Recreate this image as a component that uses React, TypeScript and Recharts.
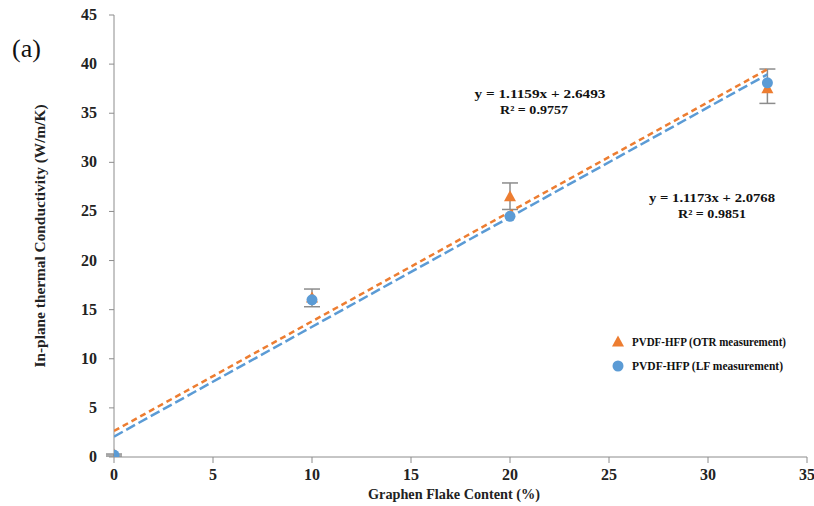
import { ComposedChart, Scatter, XAxis, YAxis, ErrorBar } from 'recharts';

const xTicks = [0, 5, 10, 15, 20, 25, 30, 35];
const yTicks = [0, 5, 10, 15, 20, 25, 30, 35, 40, 45];

// graphene flake content (%)
const contentPct = [0, 10, 20, 33];
// OTR measurement, with [lower, upper] error
const otrValues = [0.2, 16.2, 26.5, 37.5];
const otrErrLow = [0.1, 0.9, 1.3, 1.5];
const otrErrHigh = [0.1, 0.9, 1.4, 2.0];
// LF measurement
const lfValues = [0.2, 16.0, 24.5, 38.1];

// linear trendline end points
const trendX = [0, 33];
const otrTrend = [2.65, 39.47];
const lfTrend = [2.08, 38.95];

const ORANGE = '#ED7D31';
const BLUE = '#5B9BD5';
const AXIS = '#8c8c8c';
const FONT = 'Liberation Serif';

const otrData = contentPct.map((x, i) => ({
  x,
  y: otrValues[i],
  err: [otrErrLow[i], otrErrHigh[i]],
}));
const lfData = contentPct.map((x, i) => ({ x, y: lfValues[i] }));
const otrTrendData = trendX.map((x, i) => ({ x, y: otrTrend[i] }));
const lfTrendData = trendX.map((x, i) => ({ x, y: lfTrend[i] }));

const Triangle = ({ cx, cy }: any) => (
  <polygon
    points={`${cx},${cy - 6.5} ${cx - 6},${cy + 4.5} ${cx + 6},${cy + 4.5}`}
    fill={ORANGE}
  />
);
const Dot = ({ cx, cy }: any) => <circle cx={cx} cy={cy} r={5.5} fill={BLUE} />;
const NoShape = () => <g />;

const XTick = (props: any) => (
  <text x={props.x} y={props.y + 15} textAnchor="middle" fontFamily={FONT} fontWeight="bold" fontSize={16} fill="#222">
    {props.payload.value}
  </text>
);
const YTick = (props: any) => (
  <text x={props.x - 10} y={props.y + 5} textAnchor="end" fontFamily={FONT} fontWeight="bold" fontSize={16} fill="#222">
    {props.payload.value}
  </text>
);

export default function App() {
  return (
    <div style={{ position: 'absolute', left: 0, top: 0, width: 814, height: 506, background: '#fff' }}>
      <ComposedChart width={814} height={506} margin={{ top: 15, right: 7, left: 54, bottom: 9 }}>
        <XAxis
          type="number"
          dataKey="x"
          domain={[0, 35]}
          ticks={xTicks}
          interval={0}
          height={40}
          stroke={AXIS}
          tickSize={6}
          tick={XTick}
          allowDataOverflow
        />
        <YAxis
          type="number"
          dataKey="y"
          domain={[0, 45]}
          ticks={yTicks}
          interval={0}
          width={60}
          stroke={AXIS}
          tickSize={5}
          tick={YTick}
          allowDataOverflow
        />
        <Scatter
          data={otrTrendData}
          line={{ stroke: ORANGE, strokeWidth: 2.5, strokeDasharray: '6 4' }}
          shape={<NoShape />}
          isAnimationActive={false}
          legendType="none"
        />
        <Scatter
          data={lfTrendData}
          line={{ stroke: BLUE, strokeWidth: 2.5, strokeDasharray: '10 4' }}
          shape={<NoShape />}
          isAnimationActive={false}
          legendType="none"
        />
        <Scatter name="PVDF-HFP (OTR measurement)" data={otrData} shape={<Triangle />} isAnimationActive={false}>
          <ErrorBar dataKey="err" direction="y" width={8} stroke={AXIS} strokeWidth={1.5} />
        </Scatter>
        <Scatter name="PVDF-HFP (LF measurement)" data={lfData} shape={<Dot />} isAnimationActive={false} />
      </ComposedChart>
      <svg width={814} height={506} style={{ position: 'absolute', left: 0, top: 0, pointerEvents: 'none' }} fontFamily={FONT}>
        <text x={12} y={57} fontSize={26} fill="#111">(a)</text>
        <text
          x={45}
          y={236}
          transform="rotate(-90 45 236)"
          textAnchor="middle"
          fontWeight="bold"
          fontSize={14}
          fill="#222"
          textLength={263}
          lengthAdjust="spacingAndGlyphs"
        >
          In-plane thermal Conductivity (W/m/K)
        </text>
        <text x={454} y={499} textAnchor="middle" fontWeight="bold" fontSize={14} fill="#222" textLength={172} lengthAdjust="spacingAndGlyphs">
          Graphen Flake Content (%)
        </text>
        <g fontWeight="bold" fontSize={13} fill="#111" textAnchor="middle">
          <text x={540} y={98} textLength={131} lengthAdjust="spacingAndGlyphs">y = 1.1159x + 2.6493</text>
          <text x={534} y={114} textLength={68} lengthAdjust="spacingAndGlyphs">R² = 0.9757</text>
          <text x={712} y={202} textLength={126} lengthAdjust="spacingAndGlyphs">y = 1.1173x + 2.0768</text>
          <text x={712} y={218} textLength={68} lengthAdjust="spacingAndGlyphs">R² = 0.9851</text>
        </g>
        <g fontWeight="bold" fontSize={12.5} fill="#111">
          <polygon points="618,335.5 612,346.5 624,346.5" fill={ORANGE} />
          <text x={632} y={346} textLength={154} lengthAdjust="spacingAndGlyphs">
            PVDF-HFP (OTR measurement)
          </text>
          <circle cx={618} cy={366} r={5.5} fill={BLUE} />
          <text x={632} y={370} textLength={151} lengthAdjust="spacingAndGlyphs">
            PVDF-HFP (LF measurement)
          </text>
        </g>
      </svg>
    </div>
  );
}
